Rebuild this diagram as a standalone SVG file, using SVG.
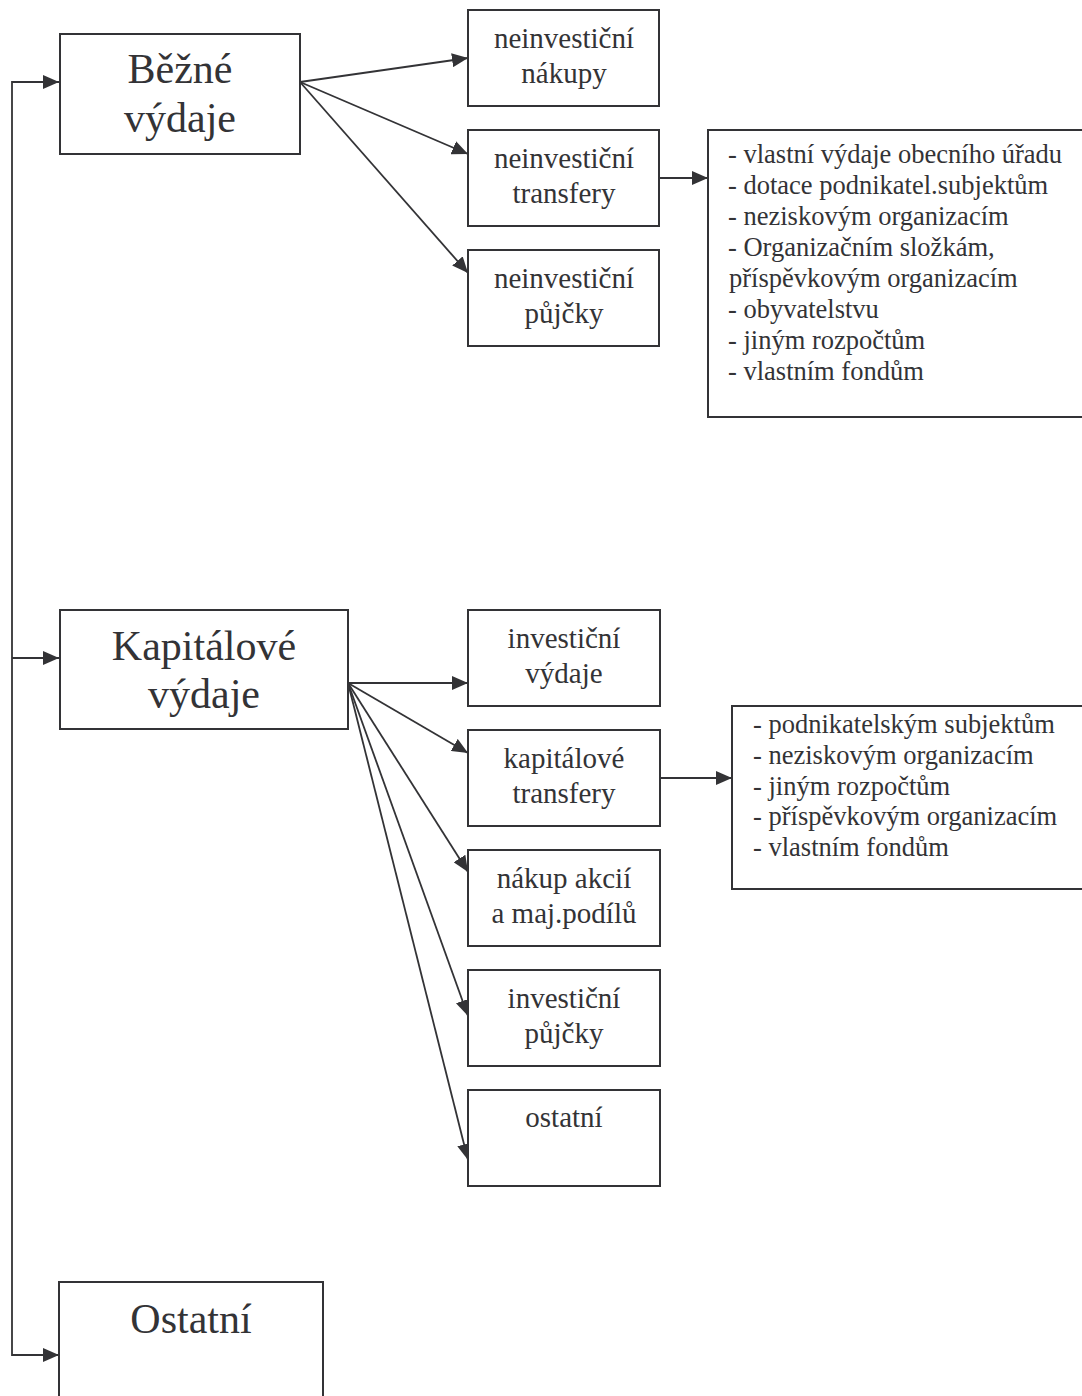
<svg xmlns="http://www.w3.org/2000/svg" width="1082" height="1396" viewBox="0 0 1082 1396">
<style>
  .box { fill: #ffffff; stroke: #333336; stroke-width: 2; }
  .big { font-family: "Liberation Serif", "Times New Roman", serif; font-size: 42px; fill: #333336; text-anchor: middle; }
  .mid { font-family: "Liberation Serif", "Times New Roman", serif; font-size: 29px; fill: #333336; text-anchor: middle; }
  .list { font-family: "Liberation Serif", "Times New Roman", serif; font-size: 26.5px; fill: #333336; }
  .conn path { fill: none; stroke: #333336; stroke-width: 1.8; marker-end: url(#arr); }
</style>
<defs>
  <marker id="arr" markerUnits="userSpaceOnUse" markerWidth="16" markerHeight="14" refX="16" refY="7" orient="auto">
    <path d="M0,0 L16,7 L0,14 z" fill="#333336"/>
  </marker>
</defs>
<rect width="1082" height="1396" fill="#ffffff"/>

<g id="connectors" class="conn">
  <path d="M12,658 V82 H59"/>
  <path d="M12,658 H59"/>
  <path d="M12,658 V1355 H59"/>
  <path d="M300,82 L468,58"/>
  <path d="M300,82 L468,154"/>
  <path d="M300,82 L468,273"/>
  <path d="M659,178 H708"/>
  <path d="M348,683 H468"/>
  <path d="M348,683 L468,753"/>
  <path d="M348,683 L468,872"/>
  <path d="M348,683 L468,1016"/>
  <path d="M348,683 L468,1160"/>
  <path d="M660,778 H732"/>
</g>

<g id="bezne">
  <rect class="box" x="60" y="34" width="240" height="120"/>
  <text class="big" x="180" y="83">Běžné</text>
  <text class="big" x="180" y="132">výdaje</text>
</g>
<g id="kapitalove">
  <rect class="box" x="60" y="610" width="288" height="119"/>
  <text class="big" x="204" y="660">Kapitálové</text>
  <text class="big" x="204" y="708">výdaje</text>
</g>
<g id="ostatni-main">
  <rect class="box" x="59" y="1282" width="264" height="150"/>
  <text class="big" x="191" y="1333">Ostatní</text>
</g>

<g id="neinv-nakupy">
  <rect class="box" x="468" y="10" width="191" height="96"/>
  <text class="mid" x="564" y="48">neinvestiční</text>
  <text class="mid" x="564" y="83">nákupy</text>
</g>
<g id="neinv-transfery">
  <rect class="box" x="468" y="130" width="191" height="96"/>
  <text class="mid" x="564" y="168">neinvestiční</text>
  <text class="mid" x="564" y="203">transfery</text>
</g>
<g id="neinv-pujcky">
  <rect class="box" x="468" y="250" width="191" height="96"/>
  <text class="mid" x="564" y="288">neinvestiční</text>
  <text class="mid" x="564" y="323">půjčky</text>
</g>

<g id="bezne-list">
  <rect class="box" x="708" y="130" width="400" height="287"/>
  <text class="list" x="728" y="163">- vlastní výdaje obecního úřadu</text>
  <text class="list" x="728" y="194">- dotace podnikatel.subjektům</text>
  <text class="list" x="728" y="225">- neziskovým organizacím</text>
  <text class="list" x="728" y="256">- Organizačním složkám,</text>
  <text class="list" x="729" y="287">příspěvkovým organizacím</text>
  <text class="list" x="728" y="318">- obyvatelstvu</text>
  <text class="list" x="728" y="349">- jiným rozpočtům</text>
  <text class="list" x="728" y="380">- vlastním fondům</text>
</g>

<g id="inv-vydaje">
  <rect class="box" x="468" y="610" width="192" height="96"/>
  <text class="mid" x="564" y="648">investiční</text>
  <text class="mid" x="564" y="683">výdaje</text>
</g>
<g id="kap-transfery">
  <rect class="box" x="468" y="730" width="192" height="96"/>
  <text class="mid" x="564" y="768">kapitálové</text>
  <text class="mid" x="564" y="803">transfery</text>
</g>
<g id="nakup-akcii">
  <rect class="box" x="468" y="850" width="192" height="96"/>
  <text class="mid" x="564" y="888">nákup akcií</text>
  <text class="mid" x="564" y="923">a maj.podílů</text>
</g>
<g id="inv-pujcky">
  <rect class="box" x="468" y="970" width="192" height="96"/>
  <text class="mid" x="564" y="1008">investiční</text>
  <text class="mid" x="564" y="1043">půjčky</text>
</g>
<g id="ostatni-sub">
  <rect class="box" x="468" y="1090" width="192" height="96"/>
  <text class="mid" x="564" y="1127">ostatní</text>
</g>

<g id="kap-list">
  <rect class="box" x="732" y="706" width="400" height="183"/>
  <text class="list" x="753" y="733">- podnikatelským subjektům</text>
  <text class="list" x="753" y="764">- neziskovým organizacím</text>
  <text class="list" x="753" y="795">- jiným rozpočtům</text>
  <text class="list" x="753" y="825">- příspěvkovým organizacím</text>
  <text class="list" x="753" y="856">- vlastním fondům</text>
</g>
</svg>
